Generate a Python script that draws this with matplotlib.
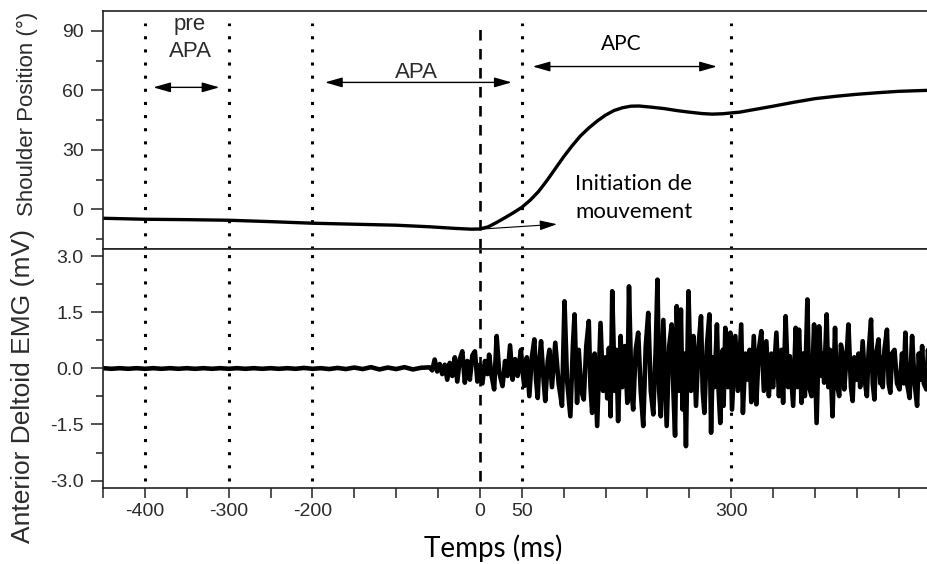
import numpy as np
import matplotlib
matplotlib.use("Agg")
import matplotlib.pyplot as plt

# shoulder position (deg)
pos_t = [-450, -400, -350, -300, -250, -200, -150, -100, -60, -30, -10, 0, 10, 20,
         30, 40, 50, 60, 70, 80, 90, 100, 110, 120, 130, 140, 150, 160, 170, 180,
         190, 205, 220, 235, 250, 265, 277, 290, 310, 330, 350, 375, 400, 425, 450,
         475, 500, 535]
pos_v = [-4.5, -5.0, -5.2, -5.5, -6.2, -7.0, -7.5, -8.0, -8.8, -9.6, -10.0, -9.9, -8.8, -6.6,
         -4.2, -1.7, 1.0, 4.6, 9.0, 14.5, 20.5, 26.5, 32.0, 37.0, 41.0, 44.5, 47.5, 49.8, 51.2, 52.0,
         52.1, 51.5, 50.8, 49.8, 49.0, 48.3, 48.0, 48.2, 49.0, 50.5, 52.0, 54.0, 55.8, 57.0, 58.0,
         58.8, 59.5, 60.0]

# EMG baseline before onset (mV), one value every 10 ms from -450
quiet_v = [0.008, -0.008, 0.008, -0.008, 0.008, -0.008, 0.008, -0.008, 0.008, -0.008,
           0.008, -0.008, 0.008, -0.008, 0.008, -0.008, 0.008, -0.008, 0.008, -0.008,
           0.008, -0.008, 0.008, -0.008, 0.015, -0.008, 0.008, -0.015, 0.015, -0.015,
           0.025, -0.015, 0.035, -0.025, 0.025, -0.015, 0.035, -0.025, 0.02]
quiet_t = np.arange(-450, -60, 10)

# EMG burst (time ms, value mV)
burst_t = [-60, -57, -54, -51, -48, -45, -42, -39, -36, -33, -30, -27, -24, -21, -18,
           -15, -12, -9, -6, -3, 0, 3, 6, 9, 11, 14, 17, 20, 23, 27,
           30, 33, 36, 39, 42, 45, 49, 51, 53, 56, 59, 62, 65, 67, 69,
           71, 73, 76, 78, 81, 83, 86, 90, 94, 98, 101, 104, 108, 111, 113,
           116, 118, 121, 124, 127, 130, 132, 134, 137, 140, 144, 147, 150, 152, 154,
           156, 158, 161, 163, 165, 168, 170, 173, 176, 178, 181, 183, 186, 189, 192,
           195, 198, 201, 204, 207, 210, 212, 214, 216, 219, 223, 226, 229, 231, 233,
           235, 238, 240, 242, 244, 246, 249, 252, 255, 258, 261, 264, 266, 268, 271,
           274, 276, 278, 280, 283, 285, 287, 290, 291, 293, 296, 299, 301, 305, 308,
           312, 314, 317, 320, 322, 324, 327, 330, 333, 336, 339, 342, 345, 348, 350,
           354, 357, 360, 362, 365, 368, 370, 374, 377, 379, 381, 384, 386, 388, 391,
           393, 396, 398, 399, 402, 405, 408, 410, 411, 414, 416, 418, 421, 424, 426,
           429, 431, 433, 435, 438, 440, 443, 445, 447, 450, 452, 454, 457, 460, 462,
           464, 467, 469, 471, 473, 476, 478, 479, 481, 483, 486, 488, 490, 492, 495,
           498, 501, 504, 506, 508, 510, 513, 516, 519, 522, 524, 526, 528, 530, 533,
           535, 537]
burst_v = [0.03, -0.05, 0.24, -0.08, 0.12, -0.15, 0.10, -0.30, 0.15, -0.20, 0.30, -0.35, 0.25, 0.46, -0.38,
           0.20, -0.30, 0.35, 0.46, -0.35, 0.10, -0.40, 0.20, -0.15, 0.37, -0.20, -0.56, 0.87, -0.10, -0.47,
           0.20, -0.20, 0.62, -0.30, 0.25, -0.20, 0.50, -0.10, -0.47, 0.30, -0.74, 0.30, 0.78, -0.30, -0.79,
           0.20, 0.73, -0.30, -0.87, 0.20, 0.50, -0.50, 0.69, -0.40, -1.00, 1.80, -0.30, -1.28, 0.60, 1.45,
           -0.92, 0.50, -0.60, -0.83, 0.60, 1.27, -0.50, -1.19, 0.40, -1.54, 1.22, -0.60, 0.30, -0.80, 0.55,
           -1.28, 2.07, -0.60, 0.50, -1.41, 0.87, -0.50, 0.60, -0.92, 2.20, -0.60, -1.10, 0.50, 0.96, -0.60,
           -1.54, 0.60, 1.49, -0.60, -1.23, 0.60, 2.38, -0.60, -1.28, 1.30, -1.54, 0.60, 1.18, -0.60, -1.80,
           1.67, -0.60, 1.58, -1.10, 0.40, -2.08, 2.07, -0.60, 0.87, -1.00, 0.60, 1.40, -0.60, -1.19, 0.60,
           1.45, -1.72, 0.30, -0.50, 1.18, -0.60, -1.46, 0.50, -1.00, 1.09, -0.50, 0.96, -1.10, 0.87, -0.60,
           1.18, -1.19, 0.40, -0.30, 0.50, -0.90, 0.87, -0.96, 0.50, 1.00, -0.60, 0.73, -0.74, 0.40, -0.50,
           0.96, -0.74, 0.50, -0.92, 1.40, -0.50, 0.33, -1.00, 1.09, -0.50, 1.04, -0.92, 0.40, -0.74, 1.85,
           -0.50, -0.74, 0.50, 1.18, -1.46, 1.13, -0.20, 0.40, -0.38, 1.45, -0.50, 0.50, -1.28, 1.09, -0.40,
           -0.74, 0.64, 0.40, -0.56, 0.40, 1.18, -0.50, -0.87, 0.30, -0.30, 0.40, -0.50, 0.73, -0.40, -0.74,
           0.40, 1.31, -0.40, -0.83, 0.40, 0.78, -0.40, 0.30, -0.50, 0.50, 1.04, -0.40, -0.65, 0.40, 0.50,
           -0.40, -0.56, 0.40, -0.40, 0.96, -0.40, -0.79, 0.87, -0.40, -1.00, 0.40, -0.30, 0.60, -0.40, -0.56,
           0.50, -0.30]

emg_t = np.concatenate([quiet_t, burst_t])
emg_v = np.concatenate([quiet_v, burst_v])

dotted_at = [-400, -300, -200, 50, 300]
onset_at = 0
x_labels = {-400: "-400", -300: "-300", -200: "-200", 0: "0", 50: "50", 300: "300"}

plt.rcParams['font.family'] = ['Liberation Sans', 'DejaVu Sans']
TXT = '#2b2b2b'
CAL = ['Lato', 'DejaVu Sans']

fig = plt.figure(figsize=(9.28, 5.64), dpi=100)
ax1 = fig.add_axes([0.111, 0.5585, 0.889, 0.422])
ax2 = fig.add_axes([0.111, 0.1348, 0.889, 0.4237], sharex=ax1)

for ax in (ax1, ax2):
    ax.spines['right'].set_visible(False)
    for s in ('left', 'top', 'bottom'):
        ax.spines[s].set_linewidth(1.2)
        ax.spines[s].set_color('#222222')
    ax.tick_params(axis='y', which='major', length=9, width=1.1, pad=5,
                   labelsize=14, labelcolor=TXT, color='#222222')
    ax.tick_params(axis='y', which='minor', length=5, width=1.1, color='#222222')

ax1.plot(pos_t, pos_v, color='black', lw=2.4, solid_joinstyle='round')
ax1.set_ylim(-20, 100)
ax1.set_yticks([0, 30, 60, 90])
ax1.set_yticks([-15, 15, 45, 75], minor=True)
ax1.tick_params(axis='x', which='both', bottom=False, labelbottom=False)

ax2.plot(emg_t, emg_v, color='black', lw=3.3)
ax2.set_ylim(-3.2, 3.2)
ax2.set_yticks([-3.0, -1.5, 0.0, 1.5, 3.0])
ax2.set_yticklabels(['-3.0', '-1.5', '0.0', '1.5', '3.0'])
ax2.set_yticks([-2.25, -0.75, 0.75, 2.25], minor=True)

ax2.set_xlim(-450, 535)
xt = list(range(-450, 501, 50))
ax2.set_xticks(xt)
ax2.set_xticklabels([x_labels.get(v, '') for v in xt])
ax2.tick_params(axis='x', which='major', length=7, width=1.1, pad=4,
                labelsize=14, labelcolor=TXT, color='#222222')

for x in dotted_at:
    ax1.axvline(x, ymin=0, ymax=0.95, color='black', lw=2.2, linestyle=(0, (1, 3.3)))
    ax2.axvline(x, ymin=0.03, ymax=1, color='black', lw=2.2, linestyle=(0, (1, 3.3)))
ax1.axvline(onset_at, ymin=0, ymax=0.95, color='black', lw=1.9, linestyle=(0, (4, 3.2)))
ax2.axvline(onset_at, ymin=0.03, ymax=1, color='black', lw=1.9, linestyle=(0, (4, 3.2)))

arrow2 = dict(arrowstyle='<|-|>,head_length=0.7,head_width=0.2', color='black',
              lw=1.0, mutation_scale=15, shrinkA=0, shrinkB=0)
ax1.annotate('', xy=(-311, 61.5), xytext=(-390, 61.5), arrowprops=arrow2)
ax1.annotate('', xy=(38, 64), xytext=(-185, 64), arrowprops=arrow2)
ax1.annotate('', xy=(283, 72), xytext=(63, 72), arrowprops=arrow2)
ax1.annotate('', xy=(92, -7.5), xytext=(0, -10),
             arrowprops=dict(arrowstyle='-|>,head_length=0.7,head_width=0.2', color='black',
                             lw=0.8, mutation_scale=15, shrinkA=0, shrinkB=0))

ax1.text(-346, 90.5, 'pre', ha='center', va='baseline', fontsize=16, color=TXT)
ax1.text(-346, 77, 'APA', ha='center', va='baseline', fontsize=16, color=TXT)
ax1.text(-76, 66, 'APA', ha='center', va='baseline', fontsize=16, color=TXT)
ax1.text(169, 80.5, 'APC', ha='center', va='baseline', fontsize=15, color='black', family=CAL)
ax1.text(113, 9.5, 'Initiation de', ha='left', va='baseline', fontsize=16, color='black', family=CAL)
ax1.text(114, -4.5, 'mouvement', ha='left', va='baseline', fontsize=16, color='black', family=CAL)

fig.text(0.030, 1 - 114 / 564, 'Shoulder Position (°)', rotation=90, ha='center', va='center',
         fontsize=16, color=TXT)
fig.text(0.025, 1 - 386 / 564, 'Anterior Deltoid EMG (mV)', rotation=90, ha='center', va='center',
         fontsize=19, color=TXT)
fig.text(0.531, 0.028, 'Temps (ms)', ha='center', va='center', fontsize=20, color='black', family=CAL)

fig.savefig('out.png', dpi=100)
